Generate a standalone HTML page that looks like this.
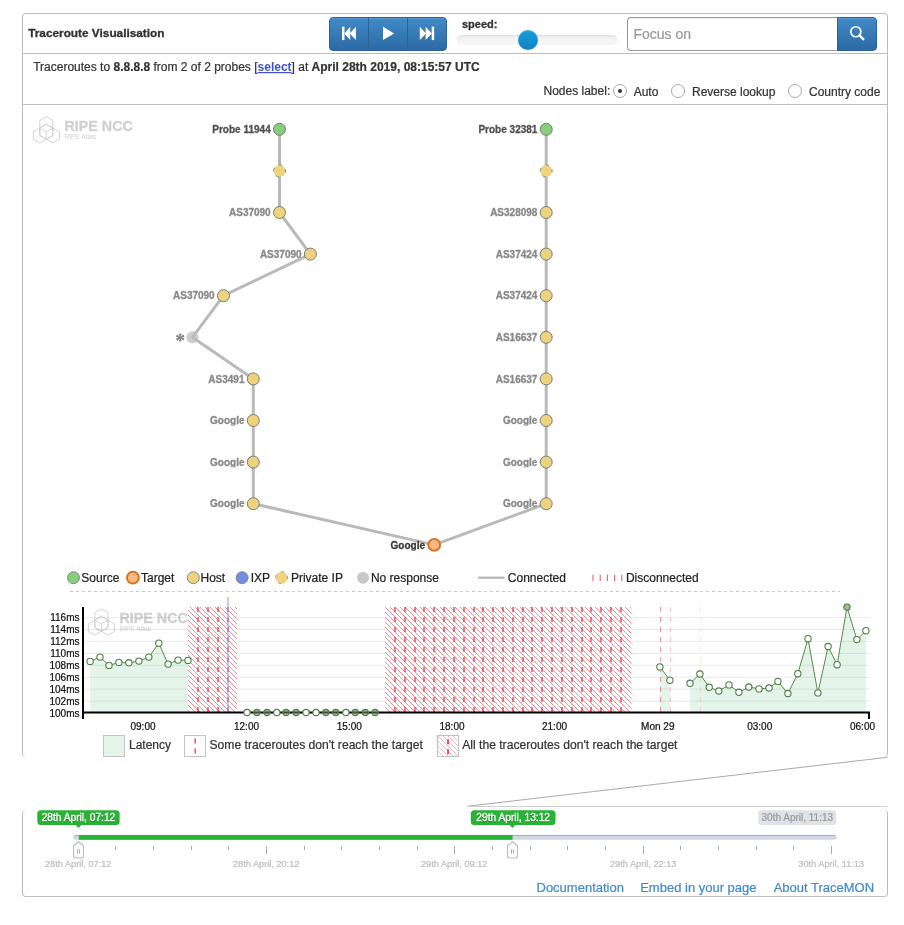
<!DOCTYPE html>
<html lang="en"><head><meta charset="utf-8"><title>Traceroute Visualisation</title>
<style>
*{box-sizing:border-box;margin:0;padding:0}
html,body{width:904px;height:925px;background:#fff;overflow:hidden}
body{position:relative;font-family:"Liberation Sans",Arial,Helvetica,sans-serif;font-size:12px;color:#333}
.abs{position:absolute}
#ov{position:absolute;left:0;top:0;will-change:transform;font-family:"Liberation Sans",Arial,Helvetica,sans-serif}
#top{position:absolute;left:22px;top:13px;width:866px;height:744px;border:1px solid #bcbcbc;border-bottom:none;border-radius:4px}
.hl{position:absolute;left:23px;width:864px;height:1px;background:#bcbcbc}
#bot{position:absolute;left:22px;top:810px;width:866px;height:87px;border:1px solid #bcbcbc;border-top:none;border-radius:4px}
.btn{position:absolute;top:17px;height:34px;background:linear-gradient(#418ac8,#2b6aa3);border:1px solid #2a6496;box-shadow:inset 0 1px 0 rgba(255,255,255,.12)}
.radio{position:absolute;width:14px;height:14px;border-radius:50%;border:1px solid #a8a8a8;background:#fff}
.radio.on:after{content:"";position:absolute;left:4px;top:4px;width:4px;height:4px;border-radius:50%;background:#333}
</style></head><body>

<div id="top"></div>
<div class="hl" style="top:53px"></div>
<div class="hl" style="top:104px"></div>
<div id="bot"></div>
<div class="btn" style="left:329px;width:40px;border-radius:4px 0 0 4px"></div>
<div class="btn" style="left:368px;width:40px"></div>
<div class="btn" style="left:407px;width:40px;border-radius:0 4px 4px 0"></div>
<div class="abs" style="left:457px;top:35px;width:160px;height:10px;border-radius:5px;background:linear-gradient(#f0f0f0,#f8f8f8);box-shadow:inset 0 1px 2px rgba(0,0,0,.085)"></div>
<div class="abs" style="left:518px;top:30px;width:20px;height:20px;border-radius:50%;background:linear-gradient(#189ddf,#1281bf);box-shadow:inset 0 1px 0 rgba(255,255,255,.2),0 1px 2px rgba(0,0,0,.05)"></div>
<div class="abs" style="left:627px;top:17px;width:211px;height:34px;border:1px solid #999;border-right:none;border-radius:4px 0 0 4px;background:#fff;box-shadow:inset 0 1px 1px rgba(0,0,0,.075)"></div>
<div class="btn" style="left:837px;width:40px;border-radius:0 4px 4px 0"></div>
<div class="radio on" style="left:613px;top:84px"></div>
<div class="radio" style="left:671px;top:84px"></div>
<div class="radio" style="left:788px;top:84px"></div>
<svg id="ov" width="904" height="925" viewBox="0 0 904 925">
<text x="28.2" y="37" font-size="11.82" fill="#303030" font-weight="bold" stroke="#303030" stroke-width="0.3">Traceroute Visualisation</text>
<g fill="#fff" transform="translate(329,17)">
<rect x="13.05" y="9.7" width="2.45" height="13.4"/>
<path d="M15.3 16.4 L21.2 9.7 V23.1 Z"/>
<path d="M20.7 16.4 L26.9 9.7 V23.1 Z"/>
<path d="M54.05 9.7 L65.2 16.4 L54.05 23.1 Z"/>
<path d="M90.8 9.7 L97 16.4 L90.8 23.1 Z"/>
<path d="M96.6 9.7 L102.9 16.4 L96.6 23.1 Z"/>
<rect x="102.7" y="9.7" width="2.45" height="13.4"/>
</g>
<text x="462" y="28" font-size="11" fill="#333" font-weight="bold" stroke="#333" stroke-width="0.3">speed:</text>
<text x="633.5" y="39" font-size="14" fill="#999" stroke="#999" stroke-width="0.22">Focus on</text>
<g transform="translate(837,17)"><circle cx="18.85" cy="14.75" r="5" fill="none" stroke="#fff" stroke-width="1.7"/><path d="M22.5 18.4 L26.2 22.1" stroke="#fff" stroke-width="2.3" stroke-linecap="square"/></g>
<text x="33.2" y="71" font-size="12" fill="#333" stroke="#333" stroke-width="0.22">Traceroutes to <tspan font-weight="bold">8.8.8.8</tspan> from 2 of 2 probes [<tspan font-weight="bold" fill="#4052c8" stroke="none" text-decoration="underline">select</tspan>] at <tspan font-weight="bold">April 28th 2019, 08:15:57 UTC</tspan></text>
<text x="543.5" y="95" font-size="12" fill="#333" stroke="#333" stroke-width="0.22">Nodes label:</text>
<text x="633.7" y="96" font-size="12" fill="#333" stroke="#333" stroke-width="0.22">Auto</text>
<text x="692" y="96" font-size="12" fill="#333" stroke="#333" stroke-width="0.22">Reverse lookup</text>
<text x="809" y="96" font-size="12" fill="#333" stroke="#333" stroke-width="0.22">Country code</text>
<g fill="none" stroke="#cecece" stroke-width="0.9" stroke-linejoin="round"><polygon points="46.36,116.64 52.89,120.40 52.89,135.44 46.36,139.20 39.83,135.44 39.83,120.40"/><polygon points="46.36,124.16 52.89,127.92 52.89,135.44 39.83,142.96 33.30,139.20 33.30,131.68"/><polygon points="46.36,124.16 59.42,131.68 59.42,139.20 52.89,142.96 39.83,135.44 39.83,127.92"/><path d="M46.36 131.68 L39.83 127.92 M46.36 131.68 L52.89 127.92 M46.36 131.68 L46.36 139.20"/></g>
<text x="64.5" y="130.7" font-size="14.3" fill="#d0d0d0" font-weight="bold" stroke="#d0d0d0" stroke-width="0.3">RIPE NCC</text>
<text x="64.5" y="139" font-size="6.6" fill="#d4d4d4" stroke="#d4d4d4" stroke-width="0.1">RIPE Atlas</text>
<polyline points="279.5,129.3 279.5,170.9 279.5,212.5 310.4,254.1 223.5,295.7 192.4,337.3 253.3,378.9 253.3,420.5 253.3,462.1 253.3,503.7 434.2,544.9" fill="none" stroke="#b9b9b9" stroke-width="3" stroke-linejoin="round"/>
<polyline points="546.2,129.3 546.2,170.9 546.2,212.5 546.2,254.1 546.2,295.7 546.2,337.3 546.2,378.9 546.2,420.5 546.2,462.1 546.2,503.7 434.2,544.9" fill="none" stroke="#b9b9b9" stroke-width="3" stroke-linejoin="round"/>
<circle cx="279.5" cy="129.3" r="6" fill="#84cf78" stroke="#7a7a7a" stroke-width="1"/>
<text x="270.7" y="132.9" font-size="10" fill="#505050" font-weight="bold" text-anchor="end" stroke="#505050" stroke-width="0.3">Probe 11944</text>
<circle cx="279.5" cy="170.9" r="6" fill="#efd37d"/>
<path d="M285.24 169.15 A6 6 0 0 1 285.32 172.35 M279.19 176.89 A6 6 0 0 1 275.89 175.69 M273.50 171.11 A6 6 0 0 1 274.36 167.81 M278.87 164.93 A6 6 0 0 1 282.13 165.51" fill="none" stroke="#7f898c" stroke-width="1"/>
<circle cx="279.5" cy="212.5" r="6" fill="#efd27c" stroke="#7a7a7a" stroke-width="1"/>
<text x="270.7" y="216.1" font-size="10" fill="#888" font-weight="bold" text-anchor="end" stroke="#888" stroke-width="0.3">AS37090</text>
<circle cx="310.4" cy="254.1" r="6" fill="#efd27c" stroke="#7a7a7a" stroke-width="1"/>
<text x="301.59999999999997" y="257.7" font-size="10" fill="#888" font-weight="bold" text-anchor="end" stroke="#888" stroke-width="0.3">AS37090</text>
<circle cx="223.5" cy="295.7" r="6" fill="#efd27c" stroke="#7a7a7a" stroke-width="1"/>
<text x="214.7" y="299.3" font-size="10" fill="#888" font-weight="bold" text-anchor="end" stroke="#888" stroke-width="0.3">AS37090</text>
<circle cx="192.4" cy="337.3" r="6.1" fill="#bbbdbf" fill-opacity="0.75"/>
<text x="175.6" y="346.9" font-size="19" fill="#828282" font-weight="bold" font-family="Liberation Serif, serif" stroke="#828282" stroke-width="0.3">*</text>
<circle cx="253.3" cy="378.9" r="6" fill="#efd27c" stroke="#7a7a7a" stroke-width="1"/>
<text x="244.5" y="382.5" font-size="10" fill="#888" font-weight="bold" text-anchor="end" stroke="#888" stroke-width="0.3">AS3491</text>
<circle cx="253.3" cy="420.5" r="6" fill="#efd27c" stroke="#7a7a7a" stroke-width="1"/>
<text x="244.5" y="424.1" font-size="10" fill="#888" font-weight="bold" text-anchor="end" style="clip-path:inset(0 0 0.8px 0)" stroke="#888" stroke-width="0.3">Google</text>
<circle cx="253.3" cy="462.1" r="6" fill="#efd27c" stroke="#7a7a7a" stroke-width="1"/>
<text x="244.5" y="465.7" font-size="10" fill="#888" font-weight="bold" text-anchor="end" style="clip-path:inset(0 0 0.8px 0)" stroke="#888" stroke-width="0.3">Google</text>
<circle cx="253.3" cy="503.7" r="6" fill="#efd27c" stroke="#7a7a7a" stroke-width="1"/>
<text x="244.5" y="507.3" font-size="10" fill="#888" font-weight="bold" text-anchor="end" style="clip-path:inset(0 0 0.8px 0)" stroke="#888" stroke-width="0.3">Google</text>
<circle cx="546.2" cy="129.3" r="6" fill="#84cf78" stroke="#7a7a7a" stroke-width="1"/>
<text x="537.4000000000001" y="132.9" font-size="10" fill="#505050" font-weight="bold" text-anchor="end" stroke="#505050" stroke-width="0.3">Probe 32381</text>
<circle cx="546.2" cy="170.9" r="6" fill="#efd37d"/>
<path d="M551.94 169.15 A6 6 0 0 1 552.02 172.35 M545.89 176.89 A6 6 0 0 1 542.59 175.69 M540.20 171.11 A6 6 0 0 1 541.06 167.81 M545.57 164.93 A6 6 0 0 1 548.83 165.51" fill="none" stroke="#7f898c" stroke-width="1"/>
<circle cx="546.2" cy="212.5" r="6" fill="#efd27c" stroke="#7a7a7a" stroke-width="1"/>
<text x="537.4000000000001" y="216.1" font-size="10" fill="#888" font-weight="bold" text-anchor="end" stroke="#888" stroke-width="0.3">AS328098</text>
<circle cx="546.2" cy="254.1" r="6" fill="#efd27c" stroke="#7a7a7a" stroke-width="1"/>
<text x="537.4000000000001" y="257.7" font-size="10" fill="#888" font-weight="bold" text-anchor="end" stroke="#888" stroke-width="0.3">AS37424</text>
<circle cx="546.2" cy="295.7" r="6" fill="#efd27c" stroke="#7a7a7a" stroke-width="1"/>
<text x="537.4000000000001" y="299.3" font-size="10" fill="#888" font-weight="bold" text-anchor="end" stroke="#888" stroke-width="0.3">AS37424</text>
<circle cx="546.2" cy="337.3" r="6" fill="#efd27c" stroke="#7a7a7a" stroke-width="1"/>
<text x="537.4000000000001" y="340.9" font-size="10" fill="#888" font-weight="bold" text-anchor="end" stroke="#888" stroke-width="0.3">AS16637</text>
<circle cx="546.2" cy="378.9" r="6" fill="#efd27c" stroke="#7a7a7a" stroke-width="1"/>
<text x="537.4000000000001" y="382.5" font-size="10" fill="#888" font-weight="bold" text-anchor="end" stroke="#888" stroke-width="0.3">AS16637</text>
<circle cx="546.2" cy="420.5" r="6" fill="#efd27c" stroke="#7a7a7a" stroke-width="1"/>
<text x="537.4000000000001" y="424.1" font-size="10" fill="#888" font-weight="bold" text-anchor="end" style="clip-path:inset(0 0 0.8px 0)" stroke="#888" stroke-width="0.3">Google</text>
<circle cx="546.2" cy="462.1" r="6" fill="#efd27c" stroke="#7a7a7a" stroke-width="1"/>
<text x="537.4000000000001" y="465.7" font-size="10" fill="#888" font-weight="bold" text-anchor="end" style="clip-path:inset(0 0 0.8px 0)" stroke="#888" stroke-width="0.3">Google</text>
<circle cx="546.2" cy="503.7" r="6" fill="#efd27c" stroke="#7a7a7a" stroke-width="1"/>
<text x="537.4000000000001" y="507.3" font-size="10" fill="#888" font-weight="bold" text-anchor="end" style="clip-path:inset(0 0 0.8px 0)" stroke="#888" stroke-width="0.3">Google</text>
<circle cx="434.2" cy="544.9" r="5.9" fill="#f9ba82" stroke="#dc7324" stroke-width="2"/>
<text x="425.0" y="548.9" font-size="10" fill="#383838" font-weight="bold" text-anchor="end" style="clip-path:inset(0 0 0.6px 0)" stroke="#383838" stroke-width="0.3">Google</text>
<circle cx="73.5" cy="577.7" r="6" fill="#84cf78" stroke="#8a8a8a"/>
<text x="81.3" y="582.0" font-size="12" fill="#222" stroke="#222" stroke-width="0.22">Source</text>
<circle cx="132.9" cy="577.7" r="5.9" fill="#f9ba82" stroke="#dc7324" stroke-width="2"/>
<text x="141.0" y="582.0" font-size="12" fill="#222" stroke="#222" stroke-width="0.22">Target</text>
<circle cx="193.3" cy="577.7" r="6" fill="#efd27c" stroke="#8a8a8a"/>
<text x="200.5" y="582.0" font-size="12" fill="#222" stroke="#222" stroke-width="0.22">Host</text>
<circle cx="242.1" cy="577.7" r="6" fill="#6e8fe3" stroke="#8a8a8a"/>
<text x="250.7" y="582.0" font-size="12" fill="#222" stroke="#222" stroke-width="0.22">IXP</text>
<circle cx="281.6" cy="577.7" r="6" fill="#efd37d"/>
<path d="M287.34 575.95 A6 6 0 0 1 287.42 579.15 M281.29 583.69 A6 6 0 0 1 277.99 582.49 M275.60 577.91 A6 6 0 0 1 276.46 574.61 M280.97 571.73 A6 6 0 0 1 284.23 572.31" fill="none" stroke="#9aa0a2" stroke-width="1"/>
<text x="290.9" y="582.0" font-size="12" fill="#222" stroke="#222" stroke-width="0.22">Private IP</text>
<circle cx="363" cy="577.7" r="6" fill="#c9c9c9"/>
<text x="370.9" y="582.0" font-size="12" fill="#222" stroke="#222" stroke-width="0.22">No response</text>
<line x1="478" y1="577.7" x2="504.5" y2="577.7" stroke="#b5b5b5" stroke-width="2.2"/>
<text x="507.8" y="582.0" font-size="12" fill="#222" stroke="#222" stroke-width="0.22">Connected</text>
<line x1="593.0" y1="574.7" x2="593.0" y2="581.0" stroke="#e8505c" stroke-width="1"/>
<line x1="600.2" y1="574.7" x2="600.2" y2="581.0" stroke="#e8505c" stroke-width="1"/>
<line x1="607.4" y1="574.7" x2="607.4" y2="581.0" stroke="#e8505c" stroke-width="1"/>
<line x1="614.6" y1="574.7" x2="614.6" y2="581.0" stroke="#e8505c" stroke-width="1"/>
<line x1="621.8" y1="574.7" x2="621.8" y2="581.0" stroke="#e8505c" stroke-width="1"/>
<text x="625.9" y="582.0" font-size="12" fill="#222" stroke="#222" stroke-width="0.22">Disconnected</text>
<line x1="70" y1="591.5" x2="840" y2="591.5" stroke="#c8c8c8" stroke-width="1" stroke-dasharray="3,3"/>
<defs>
<pattern id="hatch" x="385" y="607" width="5" height="5" patternUnits="userSpaceOnUse">
<path d="M-1 -1 L6 6 M-1 4 L1 6 M4 -1 L6 1" stroke="#f23c4c" stroke-opacity="0.6" stroke-width="1" fill="none"/>
</pattern>
<pattern id="hatch2" x="437" y="735" width="5" height="5" patternUnits="userSpaceOnUse">
<path d="M-1 -1 L6 6 M-1 4 L1 6 M4 -1 L6 1" stroke="#f23c4c" stroke-opacity="0.36" stroke-width="1" fill="none"/>
</pattern>
</defs>
<text x="79.5" y="716.6" font-size="10" fill="#111" text-anchor="end" stroke="#111" stroke-width="0.22">100ms</text>
<text x="79.5" y="704.7" font-size="10" fill="#111" text-anchor="end" stroke="#111" stroke-width="0.22">102ms</text>
<text x="79.5" y="692.7" font-size="10" fill="#111" text-anchor="end" stroke="#111" stroke-width="0.22">104ms</text>
<text x="79.5" y="680.8" font-size="10" fill="#111" text-anchor="end" stroke="#111" stroke-width="0.22">106ms</text>
<text x="79.5" y="668.9" font-size="10" fill="#111" text-anchor="end" stroke="#111" stroke-width="0.22">108ms</text>
<text x="79.5" y="657.0" font-size="10" fill="#111" text-anchor="end" stroke="#111" stroke-width="0.22">110ms</text>
<text x="79.5" y="645.0" font-size="10" fill="#111" text-anchor="end" stroke="#111" stroke-width="0.22">112ms</text>
<text x="79.5" y="633.1" font-size="10" fill="#111" text-anchor="end" stroke="#111" stroke-width="0.22">114ms</text>
<text x="79.5" y="621.2" font-size="10" fill="#111" text-anchor="end" stroke="#111" stroke-width="0.22">116ms</text>
<g fill="none" stroke="#cecece" stroke-width="0.9" stroke-linejoin="round"><polygon points="101.36,608.84 107.89,612.60 107.89,627.64 101.36,631.40 94.83,627.64 94.83,612.60"/><polygon points="101.36,616.36 107.89,620.12 107.89,627.64 94.83,635.16 88.30,631.40 88.30,623.88"/><polygon points="101.36,616.36 114.42,623.88 114.42,631.40 107.89,635.16 94.83,627.64 94.83,620.12"/><path d="M101.36 623.88 L94.83 620.12 M101.36 623.88 L107.89 620.12 M101.36 623.88 L101.36 631.40"/></g>
<text x="119.5" y="622.9000000000001" font-size="14.3" fill="#d0d0d0" font-weight="bold" stroke="#d0d0d0" stroke-width="0.3">RIPE NCC</text>
<text x="119.5" y="631.2" font-size="6.6" fill="#d4d4d4" stroke="#d4d4d4" stroke-width="0.1">RIPE Atlas</text>
<path d="M90.1,661.4 L100.0,657.1 L109.0,665.4 L118.9,662.4 L128.9,662.8 L138.9,661.1 L148.8,657.1 L158.8,643.2 L168.1,664.1 L178.0,660.1 L188.0,660.4 L188.0,712.5 L90.1,712.5 Z" fill="#e5f4e9"/>
<path d="M659.9,666.9 L669.9,680.2 L669.9,712.5 L659.9,712.5 Z" fill="#e5f4e9"/>
<path d="M690,683.3 L699.9,674.0 L709.2,687.3 L718.8,691.0 L729,684.9 L738.9,692.3 L748.8,687.0 L759,688.9 L769,688.0 L777.9,681.4 L787.9,693.5 L797.8,673.7 L808,638.7 L817.9,692.9 L828.1,646.5 L837.1,664.7 L847,607.1 L856.9,639.6 L865.9,630.7 L865.9,712.5 L690,712.5 Z" fill="#e5f4e9"/>
<line x1="84" y1="701.1" x2="870" y2="701.1" stroke="#000" stroke-opacity="0.085" stroke-width="1"/>
<line x1="84" y1="689.1" x2="870" y2="689.1" stroke="#000" stroke-opacity="0.085" stroke-width="1"/>
<line x1="84" y1="677.2" x2="870" y2="677.2" stroke="#000" stroke-opacity="0.085" stroke-width="1"/>
<line x1="84" y1="665.3" x2="870" y2="665.3" stroke="#000" stroke-opacity="0.085" stroke-width="1"/>
<line x1="84" y1="653.4" x2="870" y2="653.4" stroke="#000" stroke-opacity="0.085" stroke-width="1"/>
<line x1="84" y1="641.4" x2="870" y2="641.4" stroke="#000" stroke-opacity="0.085" stroke-width="1"/>
<line x1="84" y1="629.5" x2="870" y2="629.5" stroke="#000" stroke-opacity="0.085" stroke-width="1"/>
<line x1="84" y1="617.6" x2="870" y2="617.6" stroke="#000" stroke-opacity="0.085" stroke-width="1"/>
<rect x="188" y="607" width="49" height="105.5" fill="#fff"/>
<rect x="385" y="607" width="246.5" height="105.5" fill="#fff"/>
<rect x="188" y="607" width="49" height="105.5" fill="url(#hatch)"/>
<rect x="385" y="607" width="246.5" height="105.5" fill="url(#hatch)"/>
<line x1="198" y1="607" x2="198" y2="712.5" stroke="#f43a4a" stroke-width="2" stroke-dasharray="5,5" stroke-opacity="0.7"/>
<line x1="208" y1="607" x2="208" y2="712.5" stroke="#f43a4a" stroke-width="2" stroke-dasharray="5,5" stroke-opacity="0.7"/>
<line x1="218" y1="607" x2="218" y2="712.5" stroke="#f43a4a" stroke-width="2" stroke-dasharray="5,5" stroke-opacity="0.7"/>
<line x1="228" y1="607" x2="228" y2="712.5" stroke="#f43a4a" stroke-width="2" stroke-dasharray="5,5" stroke-opacity="0.7"/>
<line x1="395" y1="607" x2="395" y2="712.5" stroke="#f43a4a" stroke-width="2" stroke-dasharray="5,5" stroke-opacity="0.7"/>
<line x1="405" y1="607" x2="405" y2="712.5" stroke="#f43a4a" stroke-width="2" stroke-dasharray="5,5" stroke-opacity="0.7"/>
<line x1="415" y1="607" x2="415" y2="712.5" stroke="#f43a4a" stroke-width="2" stroke-dasharray="5,5" stroke-opacity="0.7"/>
<line x1="424" y1="607" x2="424" y2="712.5" stroke="#f43a4a" stroke-width="2" stroke-dasharray="5,5" stroke-opacity="0.7"/>
<line x1="434" y1="607" x2="434" y2="712.5" stroke="#f43a4a" stroke-width="2" stroke-dasharray="5,5" stroke-opacity="0.7"/>
<line x1="444" y1="607" x2="444" y2="712.5" stroke="#f43a4a" stroke-width="2" stroke-dasharray="5,5" stroke-opacity="0.7"/>
<line x1="454" y1="607" x2="454" y2="712.5" stroke="#f43a4a" stroke-width="2" stroke-dasharray="5,5" stroke-opacity="0.7"/>
<line x1="464" y1="607" x2="464" y2="712.5" stroke="#f43a4a" stroke-width="2" stroke-dasharray="5,5" stroke-opacity="0.7"/>
<line x1="474" y1="607" x2="474" y2="712.5" stroke="#f43a4a" stroke-width="2" stroke-dasharray="5,5" stroke-opacity="0.7"/>
<line x1="483" y1="607" x2="483" y2="712.5" stroke="#f43a4a" stroke-width="2" stroke-dasharray="5,5" stroke-opacity="0.7"/>
<line x1="493" y1="607" x2="493" y2="712.5" stroke="#f43a4a" stroke-width="2" stroke-dasharray="5,5" stroke-opacity="0.7"/>
<line x1="503" y1="607" x2="503" y2="712.5" stroke="#f43a4a" stroke-width="2" stroke-dasharray="5,5" stroke-opacity="0.7"/>
<line x1="513" y1="607" x2="513" y2="712.5" stroke="#f43a4a" stroke-width="2" stroke-dasharray="5,5" stroke-opacity="0.7"/>
<line x1="523" y1="607" x2="523" y2="712.5" stroke="#f43a4a" stroke-width="2" stroke-dasharray="5,5" stroke-opacity="0.7"/>
<line x1="532" y1="607" x2="532" y2="712.5" stroke="#f43a4a" stroke-width="2" stroke-dasharray="5,5" stroke-opacity="0.7"/>
<line x1="542" y1="607" x2="542" y2="712.5" stroke="#f43a4a" stroke-width="2" stroke-dasharray="5,5" stroke-opacity="0.7"/>
<line x1="552" y1="607" x2="552" y2="712.5" stroke="#f43a4a" stroke-width="2" stroke-dasharray="5,5" stroke-opacity="0.7"/>
<line x1="562" y1="607" x2="562" y2="712.5" stroke="#f43a4a" stroke-width="2" stroke-dasharray="5,5" stroke-opacity="0.7"/>
<line x1="572" y1="607" x2="572" y2="712.5" stroke="#f43a4a" stroke-width="2" stroke-dasharray="5,5" stroke-opacity="0.7"/>
<line x1="582" y1="607" x2="582" y2="712.5" stroke="#f43a4a" stroke-width="2" stroke-dasharray="5,5" stroke-opacity="0.7"/>
<line x1="591" y1="607" x2="591" y2="712.5" stroke="#f43a4a" stroke-width="2" stroke-dasharray="5,5" stroke-opacity="0.7"/>
<line x1="601" y1="607" x2="601" y2="712.5" stroke="#f43a4a" stroke-width="2" stroke-dasharray="5,5" stroke-opacity="0.7"/>
<line x1="611" y1="607" x2="611" y2="712.5" stroke="#f43a4a" stroke-width="2" stroke-dasharray="5,5" stroke-opacity="0.7"/>
<line x1="621" y1="607" x2="621" y2="712.5" stroke="#f43a4a" stroke-width="2" stroke-dasharray="5,5" stroke-opacity="0.7"/>
<line x1="660.5" y1="607" x2="660.5" y2="712.5" stroke="#f43a4a" stroke-width="1.15" stroke-dasharray="5,5" stroke-opacity="0.5249999999999999"/>
<line x1="670.4" y1="607" x2="670.4" y2="712.5" stroke="#f43a4a" stroke-width="1.1" stroke-dasharray="5,5" stroke-opacity="0.294"/>
<line x1="700.4" y1="607" x2="700.4" y2="712.5" stroke="#f43a4a" stroke-width="1.1" stroke-dasharray="5,5" stroke-opacity="0.13999999999999999"/>
<line x1="228" y1="597" x2="228" y2="712.5" stroke="#9aa0e0" stroke-width="2" stroke-opacity="0.55"/>
<path d="M83 607 V719 M82 712.5 H869 M869 711.5 V719" stroke="#000" stroke-width="2" fill="none"/>
<polyline points="90.1,661.4 100.0,657.1 109.0,665.4 118.9,662.4 128.9,662.8 138.9,661.1 148.8,657.1 158.8,643.2 168.1,664.1 178.0,660.1 188.0,660.4" fill="none" stroke="#558a4b" stroke-width="1"/>
<polyline points="659.9,666.9 669.9,680.2" fill="none" stroke="#558a4b" stroke-width="1"/>
<polyline points="690,683.3 699.9,674.0 709.2,687.3 718.8,691.0 729,684.9 738.9,692.3 748.8,687.0 759,688.9 769,688.0 777.9,681.4 787.9,693.5 797.8,673.7 808,638.7 817.9,692.9 828.1,646.5 837.1,664.7 847,607.1 856.9,639.6 865.9,630.7" fill="none" stroke="#558a4b" stroke-width="1"/>
<circle cx="90.1" cy="661.4" r="3.15" fill="#fff" stroke="#4f7d45" stroke-width="1.1"/>
<circle cx="100.0" cy="657.1" r="3.15" fill="#fff" stroke="#4f7d45" stroke-width="1.1"/>
<circle cx="109.0" cy="665.4" r="3.15" fill="#fff" stroke="#4f7d45" stroke-width="1.1"/>
<circle cx="118.9" cy="662.4" r="3.15" fill="#fff" stroke="#4f7d45" stroke-width="1.1"/>
<circle cx="128.9" cy="662.8" r="3.15" fill="#fff" stroke="#4f7d45" stroke-width="1.1"/>
<circle cx="138.9" cy="661.1" r="3.15" fill="#fff" stroke="#4f7d45" stroke-width="1.1"/>
<circle cx="148.8" cy="657.1" r="3.15" fill="#fff" stroke="#4f7d45" stroke-width="1.1"/>
<circle cx="158.8" cy="643.2" r="3.15" fill="#fff" stroke="#4f7d45" stroke-width="1.1"/>
<circle cx="168.1" cy="664.1" r="3.15" fill="#fff" stroke="#4f7d45" stroke-width="1.1"/>
<circle cx="178.0" cy="660.1" r="3.15" fill="#fff" stroke="#4f7d45" stroke-width="1.1"/>
<circle cx="188.0" cy="660.4" r="3.15" fill="#fff" stroke="#4f7d45" stroke-width="1.1"/>
<circle cx="659.9" cy="666.9" r="3.15" fill="#fff" stroke="#4f7d45" stroke-width="1.1"/>
<circle cx="669.9" cy="680.2" r="3.15" fill="#fff" stroke="#4f7d45" stroke-width="1.1"/>
<circle cx="690" cy="683.3" r="3.15" fill="#fff" stroke="#4f7d45" stroke-width="1.1"/>
<circle cx="699.9" cy="674.0" r="3.15" fill="#fff" stroke="#4f7d45" stroke-width="1.1"/>
<circle cx="709.2" cy="687.3" r="3.15" fill="#fff" stroke="#4f7d45" stroke-width="1.1"/>
<circle cx="718.8" cy="691.0" r="3.15" fill="#fff" stroke="#4f7d45" stroke-width="1.1"/>
<circle cx="729" cy="684.9" r="3.15" fill="#fff" stroke="#4f7d45" stroke-width="1.1"/>
<circle cx="738.9" cy="692.3" r="3.15" fill="#fff" stroke="#4f7d45" stroke-width="1.1"/>
<circle cx="748.8" cy="687.0" r="3.15" fill="#fff" stroke="#4f7d45" stroke-width="1.1"/>
<circle cx="759" cy="688.9" r="3.15" fill="#fff" stroke="#4f7d45" stroke-width="1.1"/>
<circle cx="769" cy="688.0" r="3.15" fill="#fff" stroke="#4f7d45" stroke-width="1.1"/>
<circle cx="777.9" cy="681.4" r="3.15" fill="#fff" stroke="#4f7d45" stroke-width="1.1"/>
<circle cx="787.9" cy="693.5" r="3.15" fill="#fff" stroke="#4f7d45" stroke-width="1.1"/>
<circle cx="797.8" cy="673.7" r="3.15" fill="#fff" stroke="#4f7d45" stroke-width="1.1"/>
<circle cx="808" cy="638.7" r="3.15" fill="#fff" stroke="#4f7d45" stroke-width="1.1"/>
<circle cx="817.9" cy="692.9" r="3.15" fill="#fff" stroke="#4f7d45" stroke-width="1.1"/>
<circle cx="828.1" cy="646.5" r="3.15" fill="#fff" stroke="#4f7d45" stroke-width="1.1"/>
<circle cx="837.1" cy="664.7" r="3.15" fill="#fff" stroke="#4f7d45" stroke-width="1.1"/>
<circle cx="847" cy="607.1" r="3.15" fill="#a3bd9b" stroke="#4f7d45" stroke-width="1.1"/>
<circle cx="856.9" cy="639.6" r="3.15" fill="#fff" stroke="#4f7d45" stroke-width="1.1"/>
<circle cx="865.9" cy="630.7" r="3.15" fill="#fff" stroke="#4f7d45" stroke-width="1.1"/>
<circle cx="247" cy="712.5" r="3.15" fill="#fff" stroke="#4f7d45" stroke-width="1.1"/>
<circle cx="256.9" cy="712.5" r="3.15" fill="#a2b69a" stroke="#4f7d45" stroke-width="1.1"/>
<line x1="254.2" y1="712.5" x2="259.59999999999997" y2="712.5" stroke="#3f4f39" stroke-width="2"/>
<circle cx="267" cy="712.5" r="3.15" fill="#a2b69a" stroke="#4f7d45" stroke-width="1.1"/>
<line x1="264.3" y1="712.5" x2="269.7" y2="712.5" stroke="#3f4f39" stroke-width="2"/>
<circle cx="276.8" cy="712.5" r="3.15" fill="#fff" stroke="#4f7d45" stroke-width="1.1"/>
<circle cx="286.1" cy="712.5" r="3.15" fill="#a2b69a" stroke="#4f7d45" stroke-width="1.1"/>
<line x1="283.40000000000003" y1="712.5" x2="288.8" y2="712.5" stroke="#3f4f39" stroke-width="2"/>
<circle cx="296.1" cy="712.5" r="3.15" fill="#a2b69a" stroke="#4f7d45" stroke-width="1.1"/>
<line x1="293.40000000000003" y1="712.5" x2="298.8" y2="712.5" stroke="#3f4f39" stroke-width="2"/>
<circle cx="306" cy="712.5" r="3.15" fill="#fff" stroke="#4f7d45" stroke-width="1.1"/>
<circle cx="316" cy="712.5" r="3.15" fill="#fff" stroke="#4f7d45" stroke-width="1.1"/>
<circle cx="325.8" cy="712.5" r="3.15" fill="#a2b69a" stroke="#4f7d45" stroke-width="1.1"/>
<line x1="323.1" y1="712.5" x2="328.5" y2="712.5" stroke="#3f4f39" stroke-width="2"/>
<circle cx="335.7" cy="712.5" r="3.15" fill="#a2b69a" stroke="#4f7d45" stroke-width="1.1"/>
<line x1="333.0" y1="712.5" x2="338.4" y2="712.5" stroke="#3f4f39" stroke-width="2"/>
<circle cx="345.9" cy="712.5" r="3.15" fill="#fff" stroke="#4f7d45" stroke-width="1.1"/>
<circle cx="355.3" cy="712.5" r="3.15" fill="#a2b69a" stroke="#4f7d45" stroke-width="1.1"/>
<line x1="352.6" y1="712.5" x2="358.0" y2="712.5" stroke="#3f4f39" stroke-width="2"/>
<circle cx="365.3" cy="712.5" r="3.15" fill="#a2b69a" stroke="#4f7d45" stroke-width="1.1"/>
<line x1="362.6" y1="712.5" x2="368.0" y2="712.5" stroke="#3f4f39" stroke-width="2"/>
<circle cx="375.2" cy="712.5" r="3.15" fill="#a2b69a" stroke="#4f7d45" stroke-width="1.1"/>
<line x1="372.5" y1="712.5" x2="377.9" y2="712.5" stroke="#3f4f39" stroke-width="2"/>
<text x="143" y="730.3" font-size="10" fill="#111" text-anchor="middle" stroke="#111" stroke-width="0.22">09:00</text>
<text x="246.5" y="730.3" font-size="10" fill="#111" text-anchor="middle" stroke="#111" stroke-width="0.22">12:00</text>
<text x="349.3" y="730.3" font-size="10" fill="#111" text-anchor="middle" stroke="#111" stroke-width="0.22">15:00</text>
<text x="452" y="730.3" font-size="10" fill="#111" text-anchor="middle" stroke="#111" stroke-width="0.22">18:00</text>
<text x="554.5" y="730.3" font-size="10" fill="#111" text-anchor="middle" stroke="#111" stroke-width="0.22">21:00</text>
<text x="657.8" y="730.3" font-size="10" fill="#111" text-anchor="middle" stroke="#111" stroke-width="0.22">Mon 29</text>
<text x="759.7" y="730.3" font-size="10" fill="#111" text-anchor="middle" stroke="#111" stroke-width="0.22">03:00</text>
<text x="862.5" y="730.3" font-size="10" fill="#111" text-anchor="middle" stroke="#111" stroke-width="0.22">06:00</text>
<rect x="103.5" y="735.5" width="21" height="21" fill="#e5f4e9" stroke="#c4c4c4"/>
<text x="129" y="749.3" font-size="12" fill="#333" stroke="#333" stroke-width="0.22">Latency</text>
<rect x="184.5" y="735.5" width="21" height="21" fill="#fff" stroke="#c4c4c4"/>
<line x1="195.2" y1="738.6" x2="195.2" y2="753.6" stroke="#f43a4a" stroke-opacity="0.9" stroke-width="1.5" stroke-dasharray="5,5"/>
<text x="209.5" y="749.3" font-size="12.13" fill="#333" stroke="#333" stroke-width="0.22">Some traceroutes don't reach the target</text>
<rect x="437.5" y="735.5" width="21" height="21" fill="url(#hatch2)" stroke="#c0c0c0"/>
<line x1="448" y1="739.2" x2="448" y2="754.2" stroke="#f43a4a" stroke-opacity="0.9" stroke-width="2" stroke-dasharray="5,5"/>
<text x="462.2" y="749.3" font-size="12.13" fill="#333" stroke="#333" stroke-width="0.22">All the traceroutes don't reach the target</text>
<line x1="467" y1="806.3" x2="887.5" y2="757.3" stroke="#a9a9a9" stroke-width="1"/>
<line x1="467" y1="806.5" x2="887.5" y2="806.5" stroke="#cfcfcf" stroke-width="1"/>
<rect x="73" y="835" width="763.8" height="4.8" rx="2.4" fill="#d1d6e0"/>
<path d="M74.5 835.4 H835.3" stroke="#97a2b8" stroke-width="0.8" fill="none"/>
<rect x="78.8" y="835" width="433.7" height="4.8" fill="#28b236"/>
<rect x="37.3" y="810.2" width="82.3" height="14.8" rx="3.5" fill="#28b236"/>
<path d="M75.3 824.8 L78.5 828 L81.7 824.8 Z" fill="#28b236"/>
<text x="78.44999999999999" y="821.1" font-size="10.2" fill="#fff" text-anchor="middle" style="text-shadow:0 1px 0 rgba(0,0,0,.25)" stroke="#fff" stroke-width="0.4">28th April, 07:12</text>
<rect x="470.8" y="810.2" width="84.69999999999999" height="14.8" rx="3.5" fill="#28b236"/>
<path d="M509.3 824.8 L512.5 828 L515.7 824.8 Z" fill="#28b236"/>
<text x="513.15" y="821.1" font-size="10.2" fill="#fff" text-anchor="middle" style="text-shadow:0 1px 0 rgba(0,0,0,.25)" stroke="#fff" stroke-width="0.4">29th April, 13:12</text>
<rect x="758.3" y="810.2" width="78" height="14.8" rx="3.5" fill="#dfe2e8"/>
<text x="797.3" y="821.1" font-size="10" fill="#9a9a9a" text-anchor="middle" stroke="#9a9a9a" stroke-width="0.22">30th April, 11:13</text>
<line x1="78.5" y1="846" x2="78.5" y2="854" stroke="#a9a9a9" stroke-width="1"/>
<line x1="115.5" y1="846" x2="115.5" y2="850" stroke="#a9a9a9" stroke-width="1"/>
<line x1="153.5" y1="846" x2="153.5" y2="850" stroke="#a9a9a9" stroke-width="1"/>
<line x1="191.5" y1="846" x2="191.5" y2="850" stroke="#a9a9a9" stroke-width="1"/>
<line x1="228.5" y1="846" x2="228.5" y2="850" stroke="#a9a9a9" stroke-width="1"/>
<line x1="266.5" y1="846" x2="266.5" y2="854" stroke="#a9a9a9" stroke-width="1"/>
<line x1="304.5" y1="846" x2="304.5" y2="850" stroke="#a9a9a9" stroke-width="1"/>
<line x1="341.5" y1="846" x2="341.5" y2="850" stroke="#a9a9a9" stroke-width="1"/>
<line x1="379.5" y1="846" x2="379.5" y2="850" stroke="#a9a9a9" stroke-width="1"/>
<line x1="417.5" y1="846" x2="417.5" y2="850" stroke="#a9a9a9" stroke-width="1"/>
<line x1="454.5" y1="846" x2="454.5" y2="854" stroke="#a9a9a9" stroke-width="1"/>
<line x1="492.5" y1="846" x2="492.5" y2="850" stroke="#a9a9a9" stroke-width="1"/>
<line x1="530.5" y1="846" x2="530.5" y2="850" stroke="#a9a9a9" stroke-width="1"/>
<line x1="567.5" y1="846" x2="567.5" y2="850" stroke="#a9a9a9" stroke-width="1"/>
<line x1="605.5" y1="846" x2="605.5" y2="850" stroke="#a9a9a9" stroke-width="1"/>
<line x1="643.5" y1="846" x2="643.5" y2="854" stroke="#a9a9a9" stroke-width="1"/>
<line x1="680.5" y1="846" x2="680.5" y2="850" stroke="#a9a9a9" stroke-width="1"/>
<line x1="718.5" y1="846" x2="718.5" y2="850" stroke="#a9a9a9" stroke-width="1"/>
<line x1="756.5" y1="846" x2="756.5" y2="850" stroke="#a9a9a9" stroke-width="1"/>
<line x1="793.5" y1="846" x2="793.5" y2="850" stroke="#a9a9a9" stroke-width="1"/>
<line x1="831.5" y1="846" x2="831.5" y2="854" stroke="#a9a9a9" stroke-width="1"/>
<text x="78.2" y="866.5" font-size="9.2" fill="#bcbcbc" text-anchor="middle" stroke="#bcbcbc" stroke-width="0.22">28th April, 07:12</text>
<text x="266.2" y="866.5" font-size="9.2" fill="#bcbcbc" text-anchor="middle" stroke="#bcbcbc" stroke-width="0.22">28th April, 20:12</text>
<text x="454.2" y="866.5" font-size="9.2" fill="#bcbcbc" text-anchor="middle" stroke="#bcbcbc" stroke-width="0.22">29th April, 09:12</text>
<text x="643.2" y="866.5" font-size="9.2" fill="#bcbcbc" text-anchor="middle" stroke="#bcbcbc" stroke-width="0.22">29th April, 22:13</text>
<text x="831.2" y="866.5" font-size="9.2" fill="#bcbcbc" text-anchor="middle" stroke="#bcbcbc" stroke-width="0.22">30th April, 11:13</text>
<path d="M78.5 841.7 L83.5 845.8 V856 Q83.5 858 81.5 858 H75.5 Q73.5 858 73.5 856 V845.8 Z" fill="#fbfbfc" stroke="#b7bdca" stroke-width="1.1" stroke-linejoin="round"/>
<path d="M77.5 849.5 V853.5 M79.5 849.5 V853.5" stroke="#a3adc1" stroke-width="1" fill="none"/>
<path d="M512.5 841.7 L517.5 845.8 V856 Q517.5 858 515.5 858 H509.5 Q507.5 858 507.5 856 V845.8 Z" fill="#fbfbfc" stroke="#b7bdca" stroke-width="1.1" stroke-linejoin="round"/>
<path d="M511.5 849.5 V853.5 M513.5 849.5 V853.5" stroke="#a3adc1" stroke-width="1" fill="none"/>
<text x="536.5" y="891.5" font-size="13" fill="#428bca" stroke="#428bca" stroke-width="0.22">Documentation</text>
<text x="640.2" y="891.5" font-size="13" fill="#428bca" stroke="#428bca" stroke-width="0.22">Embed in your page</text>
<text x="773.7" y="891.5" font-size="13" fill="#428bca" stroke="#428bca" stroke-width="0.22">About TraceMON</text>
</svg>
</body></html>
